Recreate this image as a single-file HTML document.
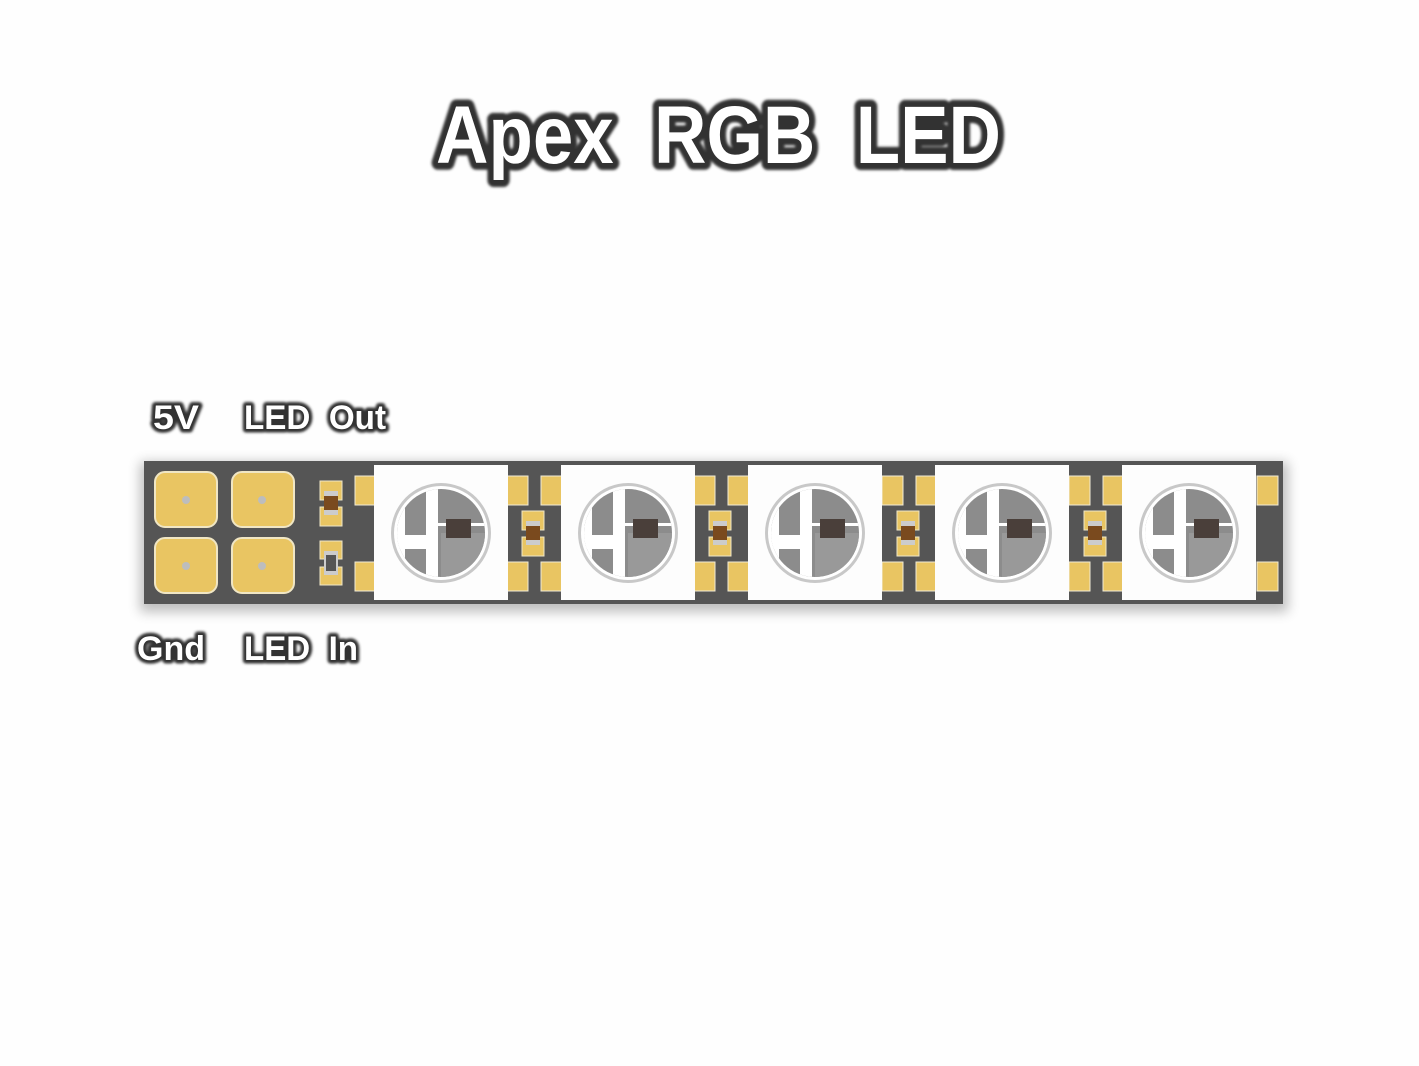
<!DOCTYPE html>
<html><head><meta charset="utf-8"><style>
html,body{margin:0;padding:0;background:#fff;}
svg{display:block}
text{white-space:pre}
</style></head><body>
<svg width="1419" height="1066" viewBox="0 0 1419 1066" xmlns="http://www.w3.org/2000/svg">
<defs>
<filter id="sh" x="-10%" y="-30%" width="120%" height="160%"><feGaussianBlur stdDeviation="6"/></filter>
<filter id="bl" x="-10%" y="-30%" width="120%" height="160%"><feGaussianBlur stdDeviation="1.2"/></filter>
<clipPath id="cc"><circle r="44"/></clipPath>
<g id="led">
  <rect x="-67" y="-68" width="134" height="135" fill="#fdfdfd"/>
  <circle r="50" fill="#c8c8c8"/>
  <circle r="47" fill="#fff"/>
  <g clip-path="url(#cc)">
    <rect x="-50" y="-50" width="100" height="100" fill="#8c8c8c"/>
    <rect x="0" y="0" width="50" height="50" fill="#999"/>
    <rect x="-50" y="-50" width="14" height="100" fill="#fff"/>
    <rect x="-15" y="-50" width="12" height="100" fill="#fff"/>
    <rect x="-50" y="2" width="40" height="14" fill="#fff"/>
    <rect x="-3" y="-10" width="55" height="3" fill="#fff"/>
  </g>
  <rect x="5" y="-14" width="25" height="19" fill="#4a3f3a"/>
</g>
<g id="pad2">
  <rect x="0" y="0" width="21" height="29" fill="#e9c562" stroke="#f1ecd6" stroke-width="1"/>
</g>
<g id="res">
  <rect x="0" y="0" width="22" height="45" fill="#555"/>
  <rect x="0" y="0" width="22" height="19" fill="#e9c562" stroke="#efe6c8"/>
  <rect x="0" y="26" width="22" height="19" fill="#e9c562" stroke="#efe6c8"/>
  <rect x="4" y="10" width="14" height="24" fill="#ccc"/>
  <rect x="4" y="15" width="14" height="14" fill="#7a4a1e"/>
</g>
</defs>
<rect x="0" y="0" width="1419" height="1066" fill="#fefefe"/>
<g font-family="Liberation Sans, sans-serif" font-weight="bold" font-size="82" xml:space="preserve">
  <text x="436" y="163" textLength="565" lengthAdjust="spacingAndGlyphs" fill="#333" stroke="#333" stroke-width="14" stroke-linejoin="round" filter="url(#bl)">Apex  RGB  LED</text>
  <text x="436" y="163" textLength="565" lengthAdjust="spacingAndGlyphs" fill="#fff">Apex  RGB  LED</text>
</g>
<g font-family="Liberation Sans, sans-serif" font-weight="bold" font-size="34" xml:space="preserve">
  <g stroke="#333" stroke-width="7" stroke-linejoin="round" fill="#333" filter="url(#bl)">
    <text x="153" y="429" textLength="46" lengthAdjust="spacingAndGlyphs">5V</text>
    <text x="244" y="429" textLength="142" lengthAdjust="spacingAndGlyphs">LED  Out</text>
    <text x="137" y="660" textLength="68" lengthAdjust="spacingAndGlyphs">Gnd</text>
    <text x="244" y="660" textLength="114" lengthAdjust="spacingAndGlyphs">LED  In</text>
  </g>
  <g fill="#fff">
    <text x="153" y="429" textLength="46" lengthAdjust="spacingAndGlyphs">5V</text>
    <text x="244" y="429" textLength="142" lengthAdjust="spacingAndGlyphs">LED  Out</text>
    <text x="137" y="660" textLength="68" lengthAdjust="spacingAndGlyphs">Gnd</text>
    <text x="244" y="660" textLength="114" lengthAdjust="spacingAndGlyphs">LED  In</text>
  </g>
</g>
<rect x="140" y="462" width="1148" height="150" fill="#000" opacity="0.25" filter="url(#sh)"/>
<rect x="144" y="461" width="1139" height="143" fill="#555"/>
<g fill="#e9c562" stroke="#f0e6c4" stroke-width="2">
  <rect x="155" y="472" width="62" height="55" rx="10"/>
  <rect x="232" y="472" width="62" height="55" rx="10"/>
  <rect x="155" y="538" width="62" height="55" rx="10"/>
  <rect x="232" y="538" width="62" height="55" rx="10"/>
</g>
<g fill="#bdbdbd">
  <circle cx="186" cy="500" r="4"/><circle cx="262" cy="500" r="4"/>
  <circle cx="186" cy="566" r="4"/><circle cx="262" cy="566" r="4"/>
</g>
<use href="#res" x="320" y="481"/>
<g transform="translate(320,541)">
  <rect x="0" y="0" width="22" height="18" fill="#e9c562" stroke="#efe6c8"/>
  <rect x="0" y="26" width="22" height="18" fill="#e9c562" stroke="#efe6c8"/>
  <rect x="4" y="10" width="14" height="24" fill="#ccc"/>
  <rect x="6" y="14" width="10" height="16" fill="#555"/>
</g>
<use href="#pad2" x="355" y="476"/>
<use href="#pad2" x="355" y="562"/>
<g id="btw">
  <use href="#pad2" x="507" y="476"/>
  <use href="#pad2" x="541" y="476"/>
  <use href="#pad2" x="507" y="562"/>
  <use href="#pad2" x="541" y="562"/>
  <use href="#res" x="522" y="511"/>
</g>
<use href="#btw" x="187"/>
<use href="#btw" x="375"/>
<use href="#btw" x="562"/>
<use href="#pad2" x="1257" y="476"/>
<use href="#pad2" x="1257" y="562"/>
<use href="#led" x="441" y="533"/>
<use href="#led" x="628" y="533"/>
<use href="#led" x="815" y="533"/>
<use href="#led" x="1002" y="533"/>
<use href="#led" x="1189" y="533"/>
</svg>
</body></html>
